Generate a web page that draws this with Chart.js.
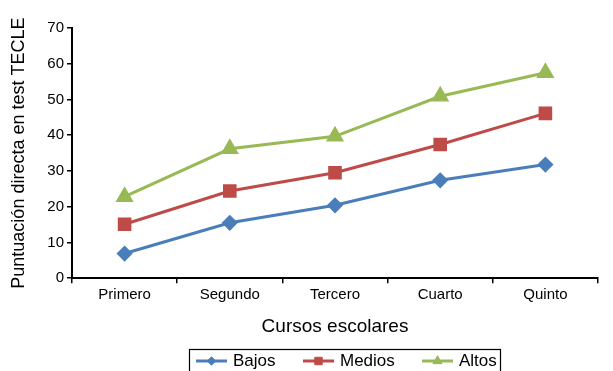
<!DOCTYPE html>
<html>
<head>
<meta charset="utf-8">
<script src="https://cdn.jsdelivr.net/npm/chart.js@4/dist/chart.umd.min.js"></script>
<style>
  html, body { margin: 0; padding: 0; background: #fff; }
  #wrap { width: 613px; height: 371px; }
</style>
</head>
<body>
<div id="wrap"><canvas id="c" width="613" height="371"></canvas></div>
<script>
// School years on the x axis
const cursos = ['Primero', 'Segundo', 'Tercero', 'Cuarto', 'Quinto'];
// Mean raw TECLE score per group
const bajos  = [6.9, 15.5, 20.4, 27.4, 31.8];
const medios = [15.1, 24.4, 29.5, 37.4, 46.1];
const altos  = [22.8, 36.2, 39.7, 50.9, 57.5];
const yTicks = [0, 10, 20, 30, 40, 50, 60, 70];

const FONT = "'Liberation Sans', Arial, Helvetica, sans-serif";

// Bottom legend in a framed box: line sample with marker, then label
const boxLegend = {
  id: 'boxLegend',
  afterDraw(chart) {
    const ctx = chart.ctx;
    const left = 189, top = 349, right = 500;
    ctx.save();
    ctx.strokeStyle = '#000';
    ctx.lineWidth = 1.2;
    ctx.strokeRect(left + 0.5, top + 0.5, right - left, 40);
    const starts = [196, 303, 422];
    const y = 361;
    chart.data.datasets.forEach((ds, i) => {
      const x0 = starts[i], x1 = x0 + 31;
      ctx.strokeStyle = ds.borderColor;
      ctx.fillStyle = ds.pointBackgroundColor;
      ctx.lineWidth = 3;
      ctx.beginPath();
      ctx.moveTo(x0, y);
      ctx.lineTo(x1, y);
      ctx.stroke();
      ctx.lineWidth = 1;
      Chart.helpers.drawPoint(ctx, {
        pointStyle: ds.pointStyle,
        radius: ds.pointRadius * 0.7,
        rotation: 0,
        borderWidth: 1
      }, (x0 + x1) / 2, y);
      ctx.fillStyle = '#000';
      ctx.font = '17px ' + FONT;
      ctx.textBaseline = 'middle';
      ctx.textAlign = 'left';
      ctx.fillText(ds.label, x1 + 6, y);
    });
    ctx.restore();
  }
};

function series(label, data, color, style, radius) {
  return {
    label, data,
    borderColor: color,
    backgroundColor: color,
    pointBackgroundColor: color,
    pointBorderColor: color,
    pointStyle: style,
    pointRadius: radius,
    pointHoverRadius: radius,
    borderWidth: 3,
    tension: 0,
    fill: false
  };
}

new Chart(document.getElementById('c'), {
  type: 'line',
  data: {
    labels: cursos,
    datasets: [
      series('Bajos', bajos, '#4A7EBB', 'rectRot', 6),
      series('Medios', medios, '#BE4B48', 'rect', 7.5),
      series('Altos', altos, '#98B954', 'triangle', 7.5)
    ]
  },
  options: {
    responsive: false,
    animation: false,
    devicePixelRatio: 1,
    layout: { padding: { top: 28, right: 15, bottom: 29, left: 0 } },
    plugins: {
      legend: { display: false },
      tooltip: { enabled: false }
    },
    scales: {
      x: {
        type: 'category',
        offset: true,
        grid: {
          display: true,
          drawOnChartArea: false,
          drawTicks: true,
          tickLength: 5,
          color: '#000',
          lineWidth: 1.5,
          offset: true
        },
        border: { display: true, color: '#000', width: 2 },
        ticks: {
          color: '#000',
          font: { family: FONT, size: 15 },
          padding: 3,
          maxRotation: 0
        },
        title: {
          display: true,
          text: 'Cursos escolares',
          color: '#000',
          font: { family: FONT, size: 19 },
          padding: { top: 8, bottom: 4 }
        }
      },
      y: {
        min: 0,
        max: 70,
        afterBuildTicks(scale) {
          scale.ticks = yTicks.map(v => ({ value: v }));
        },
        afterFit(scale) { scale.width = 72; },
        grid: {
          display: true,
          drawOnChartArea: false,
          drawTicks: true,
          tickLength: 5,
          color: '#000',
          lineWidth: 1.5
        },
        border: { display: true, color: '#000', width: 2 },
        ticks: {
          color: '#000',
          font: { family: FONT, size: 15 },
          padding: 3
        },
        title: {
          display: true,
          text: 'Puntuación directa en test TECLE',
          color: '#000',
          font: { family: FONT, size: 18 },
          padding: { top: 8, bottom: 0 }
        }
      }
    }
  },
  plugins: [boxLegend]
});
</script>
</body>
</html>
